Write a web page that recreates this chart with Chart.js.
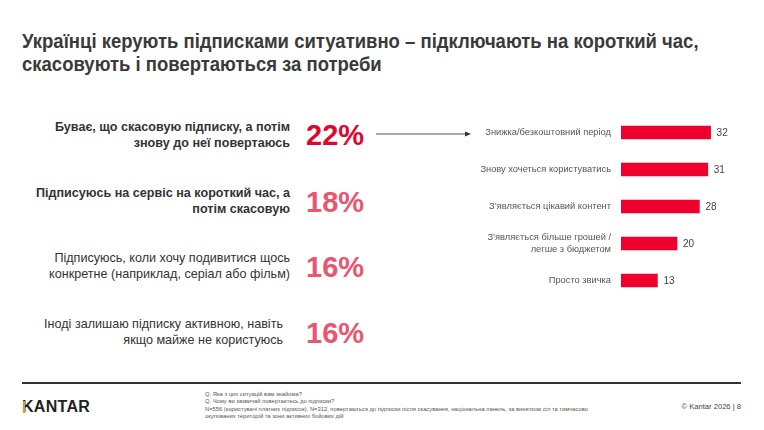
<!DOCTYPE html>
<html>
<head>
<meta charset="utf-8">
<script src="https://cdn.jsdelivr.net/npm/chart.js@4.4.1/dist/chart.umd.min.js"></script>
<style>
  body { margin: 0; width: 764px; height: 430px; background: #fff; position: relative; overflow: hidden; font-family: "Liberation Sans", Arial, sans-serif; }
  .abs { position: absolute; }
  #title { left: 22px; top: 30px; font-weight: bold; font-size: 20px; line-height: 22.5px; color: #3a3a3a; white-space: nowrap; transform: scaleX(0.925); transform-origin: left top; }
  .stmt { right: 474px; text-align: right; font-size: 12.6px; line-height: 15.5px; color: #333; white-space: nowrap; }
  .stmt.b { font-weight: bold; }
  .pct { left: 306px; font-size: 29px; font-weight: bold; line-height: 30px; }
  #arrow { left: 376px; top: 129px; }
  #rule { left: 22px; top: 382px; width: 719px; height: 2px; background: #333; }
  #logo { left: 22px; top: 398px; font-size: 16px; font-weight: bold; color: #222; letter-spacing: 0.3px; }
  #logobar { left: 23px; top: 401px; width: 2px; height: 12px; background: #c9a43a; }
  #note { left: 205px; top: 391px; font-size: 5.8px; line-height: 7.3px; color: #555; }
  #copy { right: 23px; top: 402px; font-size: 7.6px; color: #444; }
  #wrap { left: 440px; top: 114px; width: 310px; height: 185px; }
</style>
</head>
<body>
<div id="title" class="abs">Українці керують підписками ситуативно – підключають на короткий час,<br>скасовують і повертаються за потреби</div>

<div class="abs stmt b" style="top:120px">Буває, що скасовую підписку, а потім<br>знову до неї повертаюсь</div>
<div class="abs stmt b" style="top:186px">Підписуюсь на сервіс на короткий час, а<br>потім скасовую</div>
<div class="abs stmt" style="top:251px">Підписуюсь, коли хочу подивитися щось<br>конкретне (наприклад, серіал або фільм)</div>
<div class="abs stmt" style="top:317px; right:481px">Іноді залишаю підписку активною, навіть<br>якщо майже не користуюсь</div>

<div class="abs pct" style="top:120px; color:#e2062f">22%</div>
<div class="abs pct" style="top:187px; color:#e9566f">18%</div>
<div class="abs pct" style="top:252px; color:#e9566f">16%</div>
<div class="abs pct" style="top:318px; color:#e9566f">16%</div>

<svg id="arrow" class="abs" width="96" height="10">
  <line x1="0" y1="5" x2="90" y2="5" stroke="#555" stroke-width="1"/>
  <polygon points="89,2.5 95,5 89,7.5" fill="#333"/>
</svg>

<div id="wrap" class="abs"><canvas id="reasons"></canvas></div>

<div id="rule" class="abs"></div>
<div id="logo" class="abs">KANTAR</div>
<div id="logobar" class="abs"></div>
<div id="note" class="abs">Q. Яка з цих ситуацій вам знайома?<br>Q. Чому ви зазвичай повертаєтесь до підписки?<br>N=556 (користувачі платних підписок), N=312, повертаються до підписки після скасування, національна панель, за винятком сіл та тимчасово<br>окупованих територій та зони активних бойових дій</div>
<div id="copy" class="abs">© Kantar 2026 | 8</div>

<script>
// Reasons for returning to a subscription
const reasons = [
    'Знижка/безкоштовний період',
    'Знову хочеться користуватись',
    'З\u2019являється цікавий контент',
    ['З\u2019являється більше грошей /', 'легше з бюджетом'],
    'Просто звичка'
];
const reasonValues = [32, 31, 28, 20, 13];

// Value labels to the right of each bar
const valueLabels = {
    id: 'valueLabels',
    afterDatasetsDraw(chart) {
        const ctx = chart.ctx;
        const meta = chart.getDatasetMeta(0);
        ctx.save();
        ctx.font = '10px "Liberation Sans", Arial, sans-serif';
        ctx.fillStyle = '#444';
        ctx.textBaseline = 'middle';
        meta.data.forEach((bar, i) => {
            ctx.fillText(reasonValues[i], bar.x + 6, bar.y + 1);
        });
        ctx.restore();
    }
};

const reasonsChart = new Chart(document.getElementById('reasons').getContext('2d'), {
    type: 'bar',
    data: {
        labels: reasons,
        datasets: [{
            data: reasonValues,
            backgroundColor: '#f0002d',
            barThickness: 13
        }]
    },
    options: {
        indexAxis: 'y',
        responsive: true,
        maintainAspectRatio: false,
        animation: false,
        layout: { padding: { right: 17, top: 0, bottom: 0 } },
        plugins: { legend: { display: false }, tooltip: { enabled: false } },
        scales: {
            x: {
                display: false,
                min: 0,
                max: 40
            },
            y: {
                grid: { display: false },
                border: { display: false },
                afterFit: (scale) => {
                    scale.width = 181;
                    scale.paddingTop = 0;
                    scale.paddingBottom = 0;
                },
                ticks: {
                    color: '#555',
                    padding: 2,
                    font: { size: 9.3, family: '"Liberation Sans", Arial, sans-serif' }
                }
            }
        }
    },
    plugins: [valueLabels]
});
</script>
</body>
</html>
